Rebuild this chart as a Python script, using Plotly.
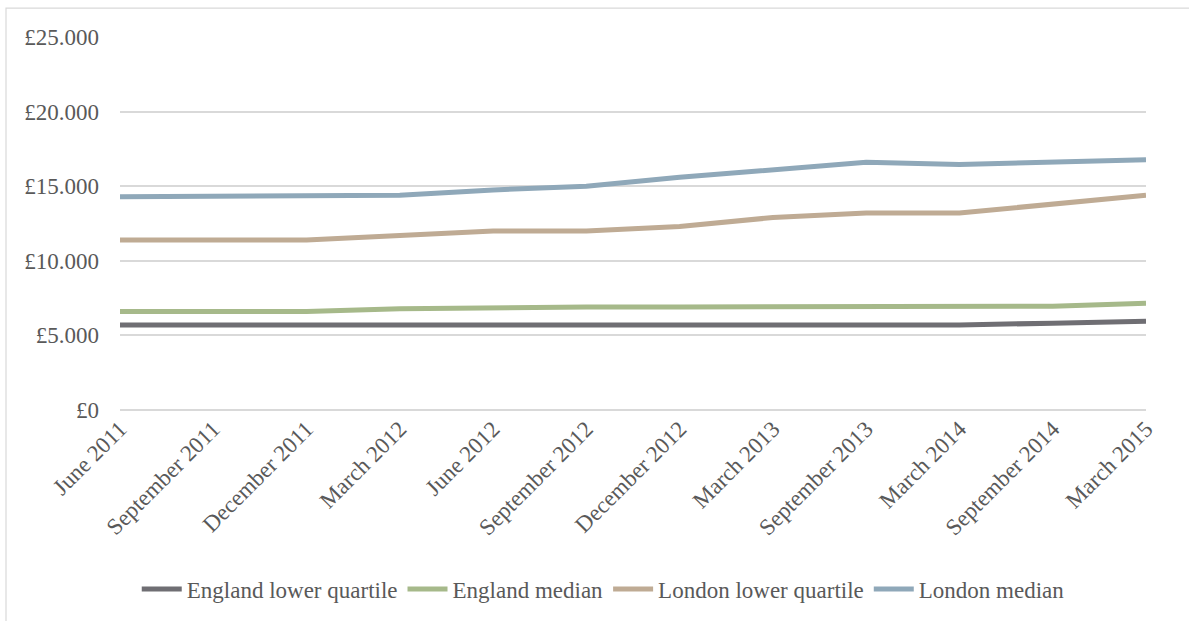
import plotly.graph_objects as go

categories = ["June 2011", "September 2011", "December 2011", "March 2012", "June 2012",
              "September 2012", "December 2012", "March 2013", "September 2013",
              "March 2014", "September 2014", "March 2015"]

england_lower_quartile = [5700, 5700, 5700, 5700, 5700, 5700, 5700, 5700, 5700, 5700, 5820, 5950]
england_median = [6600, 6600, 6600, 6780, 6850, 6900, 6900, 6900, 6900, 6900, 6960, 7150]
london_lower_quartile = [11400, 11400, 11400, 11700, 12000, 12000, 12300, 12900, 13200, 13200, 13800, 14400]
london_median = [14300, 14350, 14400, 14400, 14750, 15000, 15600, 16100, 16600, 16450, 16620, 16780]

series = [
    ("England lower quartile", england_lower_quartile, "#6f6e73"),
    ("England median", england_median, "#a6b98a"),
    ("London lower quartile", london_lower_quartile, "#bfab94"),
    ("London median", london_median, "#8fa8b9"),
]

FONT = "Liberation Serif"
TXT = "#595959"
FS = 23

fig = go.Figure()
for name, vals, color in series:
    fig.add_trace(go.Scatter(
        x=categories, y=vals, name=name, mode="lines",
        line=dict(color=color, width=5), hoverinfo="x+y+name"))

fig.update_layout(
    width=1189, height=621,
    margin=dict(l=120, r=43, t=37, b=210),
    paper_bgcolor="white", plot_bgcolor="white",
    separators=",.",
    font=dict(family=FONT, size=FS, color=TXT),
    showlegend=True,
    legend=dict(orientation="h", x=0.471, xanchor="center", y=-0.476, yanchor="middle",
                font=dict(family=FONT, size=FS, color=TXT), itemwidth=40,
                traceorder="normal"),
    xaxis=dict(type="category", range=[0, len(categories) - 1], showgrid=False,
               showline=False, ticks="", tickangle=-45,
               tickfont=dict(family=FONT, size=FS, color=TXT)),
    yaxis=dict(range=[0, 25000], dtick=5000, tick0=0, tickformat=",d", tickprefix="£",
               showgrid=True, gridcolor="#d9d9d9", gridwidth=1.5,
               zeroline=True, zerolinecolor="#d9d9d9", zerolinewidth=1.5,
               showline=False, ticks="", ticklabelstandoff=20,
               tickfont=dict(family=FONT, size=FS, color=TXT)),
    shapes=[dict(type="rect", xref="paper", yref="paper",
                 x0=(6 - 120) / 1026, x1=1.2, y0=-1.0, y1=(411 - 8) / 374,
                 line=dict(color="#d9d9d9", width=1.2), fillcolor="rgba(0,0,0,0)",
                 layer="below")],
)

fig.write_html("out.html", config={"displayModeBar": False},
               post_script="document.body.style.margin='0';document.body.style.overflow='hidden';")
